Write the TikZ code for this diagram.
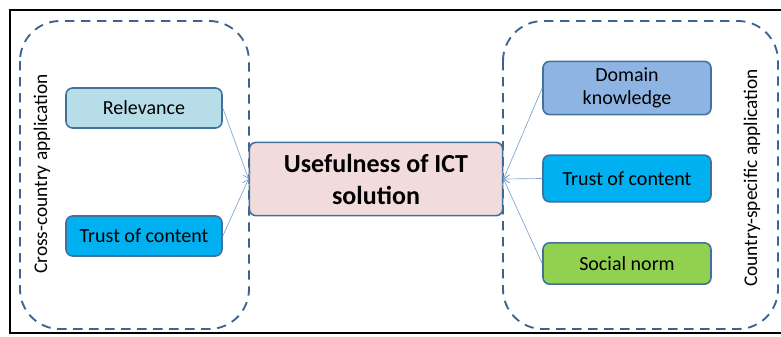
\documentclass[tikz,border=0pt]{standalone}
\usepackage{fontspec}
\setmainfont{Carlito}
\usetikzlibrary{arrows.meta}
\definecolor{edgeblue}{HTML}{41719C}
\definecolor{dashblue}{HTML}{3E6391}
\definecolor{arrblue}{HTML}{7FA3D0}
\definecolor{relfill}{HTML}{B7DEE8}
\definecolor{trustfill}{HTML}{00B0F0}
\definecolor{domfill}{HTML}{8EB4E3}
\definecolor{socfill}{HTML}{92D050}
\definecolor{usefill}{HTML}{F2DCDB}
\tikzset{
  box/.style={draw=edgeblue, line width=1.2pt, rounded corners=5pt, inner sep=0pt, align=center, font=\fontsize{15}{17}\selectfont},
  group/.style={draw=dashblue, line width=1.4pt, dash pattern=on 7pt off 5pt, rounded corners=30pt},
  conn/.style={draw=arrblue, line width=0.5pt, -{Straight Barb[length=4pt,width=6pt]}},
  sidelabel/.style={rotate=90, font=\fontsize{14.5}{16}\selectfont}
}
\begin{document}
\begin{tikzpicture}[x=0.75pt,y=-0.75pt]
\useasboundingbox (0,0) rectangle (781,336);
\draw[black, line width=1.3pt] (10,10) rectangle (790,333);
\draw[group] (20,21) rectangle (249,329);
\draw[group] (503,21) rectangle (778,329);
\node[sidelabel] (cc) at (42,174) {Cross-country application};
\node[sidelabel] (cs) at (752,178) {Country-specific application};
\node[box, fill=relfill, minimum width=117pt, minimum height=30pt] (rel) at (144,108) {Relevance};
\node[box, fill=trustfill, minimum width=117pt, minimum height=30pt] (tl) at (144,236) {Trust of content};
\node[box, fill=usefill, minimum width=190pt, minimum height=55pt, font=\fontsize{19.5}{24}\selectfont\bfseries] (use) at (376,179) {Usefulness of ICT\\solution};
\node[box, fill=domfill, minimum width=126pt, minimum height=40pt] (dom) at (627,88) {Domain\\knowledge};
\node[box, fill=trustfill, minimum width=126pt, minimum height=35pt] (tr) at (627,178.5) {Trust of content};
\node[box, fill=socfill, minimum width=126pt, minimum height=31pt] (soc) at (627,263.5) {Social norm};
\draw[conn] (rel.east) -- (use.west);
\draw[conn] (tl.east) -- (use.west);
\draw[conn] (dom.west) -- (use.east);
\draw[conn] (tr.west) -- (use.east);
\draw[conn] (soc.west) -- (use.east);
\end{tikzpicture}
\end{document}
